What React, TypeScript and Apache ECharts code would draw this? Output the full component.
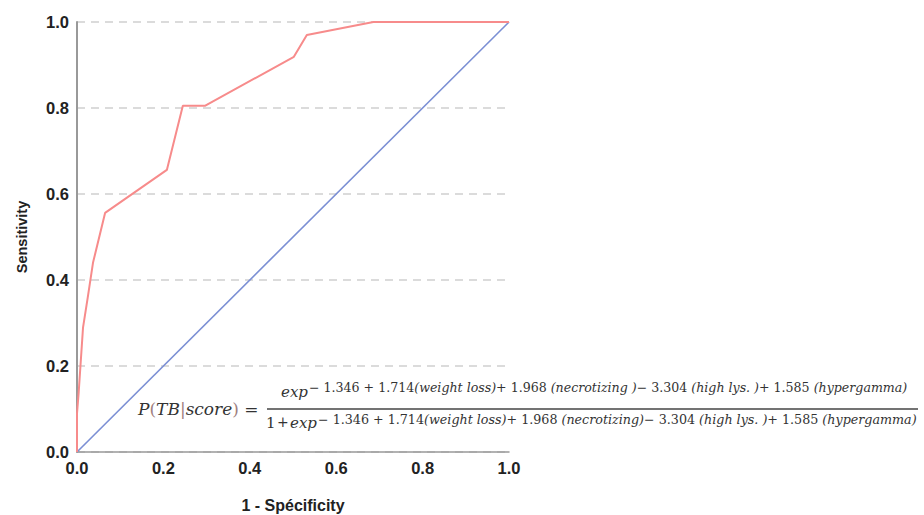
import React, { useEffect, useRef } from "react";
import * as echarts from "echarts";

const rocX = [0, 0, 0.004, 0.014, 0.025, 0.037, 0.065, 0.208, 0.245, 0.296, 0.502, 0.532, 0.686, 1.0];
const rocY = [0, 0.09, 0.14, 0.29, 0.36, 0.44, 0.556, 0.656, 0.805, 0.805, 0.919, 0.97, 1.0, 1.0];
const refX = [0, 1];
const refY = [0, 1];
const xAxisTitle = "1 - Spécificity";
const yAxisTitle = "Sensitivity";
const numParts = [
  ["n", "− 1.346 + 1.714"],
  ["i", "(weight loss)"],
  ["n", "+ 1.968 "],
  ["i", "(necrotizing )"],
  ["n", "− 3.304 "],
  ["i", "(high lys. )"],
  ["n", "+ 1.585 "],
  ["i", "(hypergamma)"],
];
const denParts = [
  ["n", "− 1.346 + 1.714"],
  ["i", "(weight loss)"],
  ["n", "+ 1.968 "],
  ["i", "(necrotizing)"],
  ["n", "− 3.304 "],
  ["i", "(high lys. )"],
  ["n", "+ 1.585 "],
  ["i", "(hypergamma)"],
];

const SERIF = "'DejaVu Serif', 'Liberation Serif', serif";
const SANS = "'Liberation Sans', Arial, sans-serif";

export default function App() {
  const ref = useRef<HTMLDivElement>(null);
  useEffect(() => {
    if (!ref.current) return;
    const chart = echarts.init(ref.current, null, { renderer: "svg" });
    const toRich = (parts: string[][]) => parts.map(([k, t]) => `{${k}|${t}}`).join("");
    const supRich = (size: number) => ({
      n: { fontFamily: SERIF, fontSize: size, fill: "#333", fontStyle: "normal" },
      i: { fontFamily: SERIF, fontSize: size, fill: "#333", fontStyle: "italic" },
    });
    const mainStyle = { fontFamily: SERIF, fontSize: 17, fontStyle: "italic", fill: "#333" };
    const expStyle = { fontFamily: SERIF, fontSize: 15, fontStyle: "italic", fill: "#333" };
    chart.setOption({
      animation: false,
      backgroundColor: "#fff",
      grid: { left: 77, right: 415, top: 22, bottom: 63, containLabel: false, outerBoundsMode: "none" },
      xAxis: {
        type: "value",
        min: 0,
        max: 1,
        interval: 0.2,
        name: xAxisTitle,
        nameLocation: "middle",
        nameGap: 45,
        nameTextStyle: { fontFamily: SANS, fontWeight: "bold", fontSize: 16, color: "#222" },
        axisLine: { show: true, lineStyle: { color: "#999", width: 1.5 } },
        axisTick: { show: false },
        splitLine: { show: false },
        axisLabel: {
          formatter: (v: number) => v.toFixed(1),
          fontFamily: SANS,
          fontWeight: "bold",
          fontSize: 16.5,
          color: "#222",
          margin: 7,
        },
      },
      yAxis: {
        type: "value",
        min: 0,
        max: 1,
        interval: 0.2,
        name: yAxisTitle,
        nameLocation: "middle",
        nameGap: 48,
        nameTextStyle: { fontFamily: SANS, fontWeight: "bold", fontSize: 14.5, color: "#222" },
        axisLine: { show: true, lineStyle: { color: "#999", width: 2 } },
        axisTick: { show: false },
        splitLine: { show: true, lineStyle: { color: "#cfcfcf", width: 1.5, type: [8, 6] } },
        axisLabel: {
          formatter: (v: number) => v.toFixed(1),
          fontFamily: SANS,
          fontWeight: "bold",
          fontSize: 16.5,
          color: "#222",
          margin: 8,
        },
      },
      series: [
        {
          type: "line",
          data: refX.map((x, i) => [x, refY[i]]),
          symbol: "none",
          lineStyle: { color: "#7b8fd4", width: 1.6 },
          z: 2,
        },
        {
          type: "line",
          data: rocX.map((x, i) => [x, rocY[i]]),
          symbol: "none",
          lineStyle: { color: "#f78b8b", width: 2 },
          z: 3,
        },
      ],
      graphic: [
        {
          type: "text",
          left: 138,
          top: 400,
          style: {
            text: "{m|P}{p|(}{m|TB}{p||}{m|score}{p|)}{e| =}",
            rich: {
              m: mainStyle,
              p: { ...mainStyle, fontStyle: "normal", fill: "#a08080" },
              e: { ...mainStyle, fontStyle: "normal" },
            },
          },
        },
        {
          type: "text",
          left: 281,
          top: 384,
          style: { text: "exp", ...expStyle },
        },
        {
          type: "text",
          left: 309,
          top: 381,
          style: { text: toRich(numParts), rich: supRich(12.6) },
        },
        {
          type: "line",
          shape: { x1: 267, y1: 409, x2: 918, y2: 409 },
          style: { stroke: "#444", lineWidth: 1.5 },
        },
        {
          type: "text",
          left: 266,
          top: 415,
          style: { text: "1", ...expStyle, fontStyle: "normal" },
        },
        {
          type: "text",
          left: 277,
          top: 415,
          style: { text: "+", ...expStyle, fontSize: 14, fontStyle: "normal" },
        },
        {
          type: "text",
          left: 290,
          top: 415,
          style: { text: "exp", ...expStyle },
        },
        {
          type: "text",
          left: 318,
          top: 413,
          style: { text: toRich(denParts), rich: supRich(12.7) },
        },
      ],
    });
    return () => chart.dispose();
  }, []);
  return <div ref={ref} style={{ width: 924, height: 515, position: "absolute", left: 0, top: 0 }} />;
}
